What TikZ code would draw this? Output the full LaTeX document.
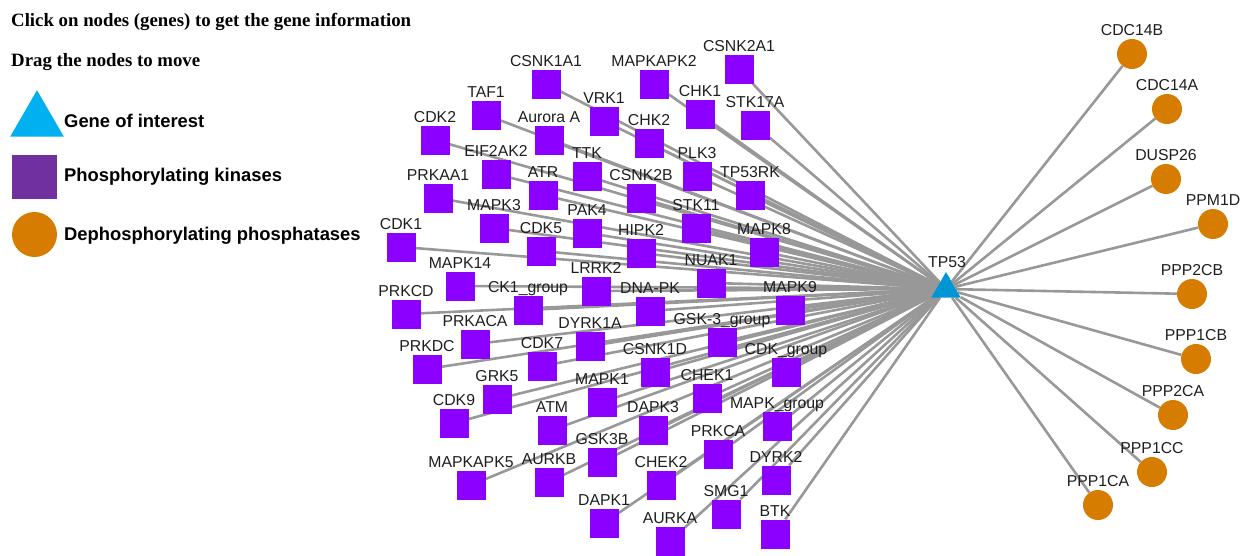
\documentclass[tikz,border=0pt]{standalone}
\usepackage{fontspec}
\setmainfont{Liberation Serif}
\setsansfont{Liberation Sans}
\usetikzlibrary{shapes.geometric,backgrounds}
\definecolor{kincol}{RGB}{140,0,255}
\definecolor{phoscol}{RGB}{214,124,0}
\definecolor{tpcol}{RGB}{0,150,214}
\definecolor{legtri}{RGB}{0,176,240}
\definecolor{legsq}{RGB}{112,48,160}
\definecolor{edgecol}{RGB}{152,152,152}
\definecolor{labcol}{RGB}{30,30,30}
\tikzset{
  kinase/.style={rectangle, fill=kincol, minimum size=29pt, inner sep=0pt},
  phos/.style={circle, fill=phoscol, minimum size=30pt, inner sep=0pt},
  lab/.style={font=\sffamily\fontsize{15.8}{18}\selectfont, text=labcol, inner sep=0pt, anchor=base},
  edge/.style={draw=edgecol, line width=2.6pt},
  titletext/.style={font=\rmfamily\bfseries\fontsize{18.8}{22}\selectfont, inner sep=0pt, anchor=base west},
  legtext/.style={font=\sffamily\bfseries\fontsize{18.4}{22}\selectfont, inner sep=0pt, anchor=base west},
}
\def\kinlist{CSNK1A1/546/84/CSNK1A1, MAPKAPK2/654/84/MAPKAPK2, CSNK2A1/739/69/CSNK2A1,
TAF1/486/115/TAF1, VRK1/604/121/VRK1, CHK1/700/114/CHK1, STK17A/755/125/STK17A,
CDK2/435/140/CDK2, AuroraA/549/140/Aurora A, CHK2/649/143/CHK2, EIF2AK2/496/174/EIF2AK2,
TTK/587/176/TTK, PLK3/697/176/PLK3, PRKAA1/438/198/PRKAA1, ATR/543/195/ATR,
CSNK2B/641/198/CSNK2B, TP53RK/750/195/TP53RK, MAPK3/494/228/MAPK3, PAK4/587/233/PAK4,
STK11/696/228/STK11, CDK1/401/247/CDK1, CDK5/541/251/CDK5, HIPK2/641/253/HIPK2,
MAPK8/764/252/MAPK8, NUAK1/711/283/NUAK1, MAPK14/460/286/MAPK14, LRRK2/596/291/LRRK2,
PRKCD/406/314/PRKCD, CKgroup/528/310/CK1\_group, DNAPK/650/311/DNA-PK, MAPK9/790/310/MAPK9,
GSKgroup/722/342/GSK-3\_group, PRKACA/475/344/PRKACA, DYRK1A/590/346/DYRK1A,
PRKDC/427/369/PRKDC, CDK7/542/366/CDK7, CSNK1D/655/372/CSNK1D, CDKgroup/786/372/CDK\_group,
GRK5/497/399/GRK5, MAPK1/602/402/MAPK1, CHEK1/707/398/CHEK1, CDK9/454/423/CDK9,
ATM/552/430/ATM, DAPK3/653/430/DAPK3, MAPKgroup/777/426/MAPK\_group, GSK3B/602/462/GSK3B,
PRKCA/718/454/PRKCA, MAPKAPK5/471/485/MAPKAPK5, AURKB/549/482/AURKB, CHEK2/661/485/CHEK2,
DYRK2/776/480/DYRK2, DAPK1/604/523/DAPK1, SMG1/726/514/SMG1, AURKA/670/541/AURKA,
BTK/775/534/BTK}
\def\phoslist{CDC14B/1132/54, CDC14A/1167/109, DUSP26/1166/179, PPM1D/1213/224,
PPP2CB/1192/294, PPP1CB/1196/359, PPP2CA/1173/415, PPP1CC/1152/472, PPP1CA/1098/505}
\begin{document}
\begin{tikzpicture}[x=1pt,y=-1pt]
\useasboundingbox (0,0) rectangle (1242,555);
% titles
\node[titletext] (t1) at (11,26.7) {Click on nodes (genes) to get the gene information};
\node[titletext] (t2) at (11,66.7) {Drag the nodes to move};
% legend
\node[regular polygon, regular polygon sides=3, fill=legtri, minimum size=62pt, inner sep=0pt] (legA) at (37,121.2) {};
\node[rectangle, fill=legsq, minimum width=45pt, minimum height=44pt, inner sep=0pt] (legB) at (34.5,177) {};
\node[circle, fill=phoscol, minimum size=45pt, inner sep=0pt] (legC) at (34.5,234.5) {};
\node[legtext] (legAt) at (64,127.7) {Gene of interest};
\node[legtext] (legBt) at (64,181) {Phosphorylating kinases};
\node[legtext] (legCt) at (64,240.7) {Dephosphorylating phosphatases};
% TP53
\node[regular polygon, regular polygon sides=3, fill=tpcol, minimum size=34pt, inner sep=0pt] (tp53) at (946,289) {};
\node[lab] (tp53-l) at (947,267) {TP53};
% kinases
\foreach \n/\x/\y/\t in \kinlist {
  \node[kinase] (\n) at (\x,\y) {};
  \node[lab] (\n-l) at ([yshift=3pt]\n.north) {\t};
}
% phosphatases
\foreach \n/\x/\y in \phoslist {
  \node[phos] (\n) at (\x,\y) {};
  \node[lab] (\n-l) at ([yshift=3pt]\n.north) {\n};
}
\begin{pgfonlayer}{background}
\foreach \n/\x/\y/\t in \kinlist { \draw[edge] (\n) -- (tp53); }
\foreach \n/\x/\y in \phoslist { \draw[edge] (\n) -- (tp53); }
\end{pgfonlayer}
\end{tikzpicture}
\end{document}
